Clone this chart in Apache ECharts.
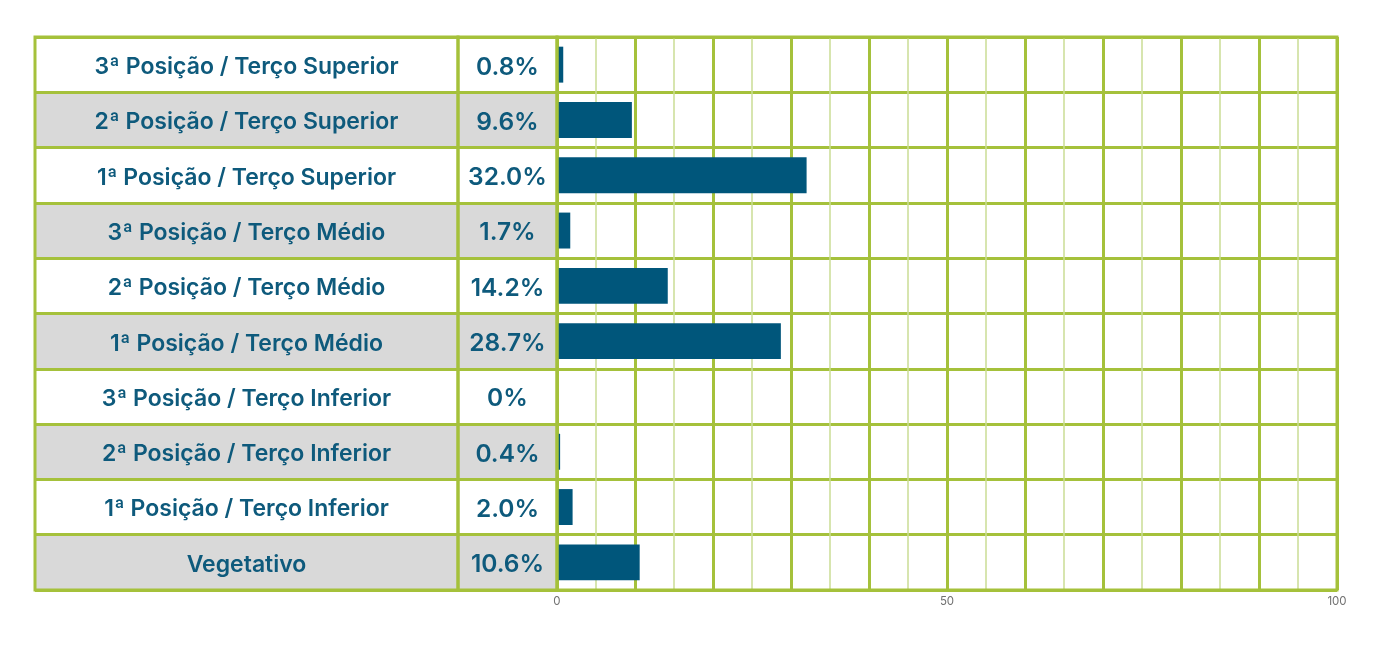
<!DOCTYPE html>
<html>
<head>
<meta charset="utf-8">
<script src="https://cdn.jsdelivr.net/npm/echarts@6/dist/echarts.min.js"></script>
<style>
  html, body { margin: 0; padding: 0; background: #ffffff; }
  #chart { width: 1377px; height: 650px; }
</style>
</head>
<body>
<div id="chart"></div>
<script>
const categories = [
  '3ª Posição / Terço Superior',
  '2ª Posição / Terço Superior',
  '1ª Posição / Terço Superior',
  '3ª Posição / Terço Médio',
  '2ª Posição / Terço Médio',
  '1ª Posição / Terço Médio',
  '3ª Posição / Terço Inferior',
  '2ª Posição / Terço Inferior',
  '1ª Posição / Terço Inferior',
  'Vegetativo'
];
const values = [0.8, 9.6, 32.0, 1.7, 14.2, 28.7, 0, 0.4, 2.0, 10.6];
const xTickLabels = [0, 50, 100];

const GREEN = '#a5c13b';
const GREEN_LIGHT = '#cadd94';
const TEXT = '#0e5a7c';
const BAR = '#00567b';
const GRAY = '#d9d9d9';
const FONT = 'Inter';

const valueLabels = values.map(v => v === 0 ? '0%' : v.toFixed(1) + '%');

const gridTop = 37, gridBottom = 60;
const col0 = { left: 35, width: 423 };
const col1 = { left: 458, width: 99 };
const col2 = { left: 557, width: 780 };

function tableYAxis(gridIndex, data, halfWidth, size) {
  return {
    type: 'category', gridIndex, data, inverse: true,
    axisLine: { show: false }, axisTick: { show: false },
    axisLabel: { margin: -halfWidth, align: 'center', verticalAlign: 'top', lineHeight: 5,
      fontSize: size, fontWeight: 600, color: TEXT, fontFamily: FONT },
    splitLine: { show: true, lineStyle: { color: GREEN, width: 3 } },
    splitArea: { show: true, areaStyle: { color: ['#ffffff', GRAY] } }
  };
}

const chart = echarts.init(document.getElementById('chart'), null, { renderer: 'canvas' });
chart.setOption({
  animation: false,
  backgroundColor: '#ffffff',
  grid: [
    { left: col0.left, width: col0.width, top: gridTop, bottom: gridBottom, show: true, borderColor: GREEN, borderWidth: 3, z: 5 },
    { left: col1.left, width: col1.width, top: gridTop, bottom: gridBottom, show: true, borderColor: GREEN, borderWidth: 3, z: 5 },
    { left: col2.left, width: col2.width, top: gridTop, bottom: gridBottom, show: true, borderColor: GREEN, borderWidth: 3, z: 5 }
  ],
  xAxis: [
    { type: 'value', gridIndex: 0, min: 0, max: 1, show: false },
    { type: 'value', gridIndex: 1, min: 0, max: 1, show: false },
    { type: 'value', gridIndex: 2, min: 0, max: 100, interval: 5, position: 'top',
      axisLine: { show: false }, axisTick: { show: false }, axisLabel: { show: false },
      splitLine: { show: true, lineStyle: { color: GREEN_LIGHT, width: 1.5 } } },
    { type: 'value', gridIndex: 2, min: 0, max: 100, interval: 10, position: 'bottom',
      axisLine: { show: false }, axisTick: { show: false },
      axisLabel: { margin: 6, fontSize: 11.5, color: '#707070', fontFamily: FONT,
        formatter: v => xTickLabels.includes(v) ? String(v) : '' },
      splitLine: { show: true, lineStyle: { color: GREEN, width: 3 } } }
  ],
  yAxis: [
    tableYAxis(0, categories, col0.width / 2, 23),
    tableYAxis(1, valueLabels, col1.width / 2, 24.5),
    { type: 'category', gridIndex: 2, data: categories, inverse: true,
      axisLine: { show: false }, axisTick: { show: false }, axisLabel: { show: false },
      splitLine: { show: true, lineStyle: { color: GREEN, width: 3 } } }
  ],
  series: [
    { type: 'bar', xAxisIndex: 3, yAxisIndex: 2, data: values, barWidth: '65%',
      itemStyle: { color: BAR }, z: 3 }
  ]
});
</script>
</body>
</html>
